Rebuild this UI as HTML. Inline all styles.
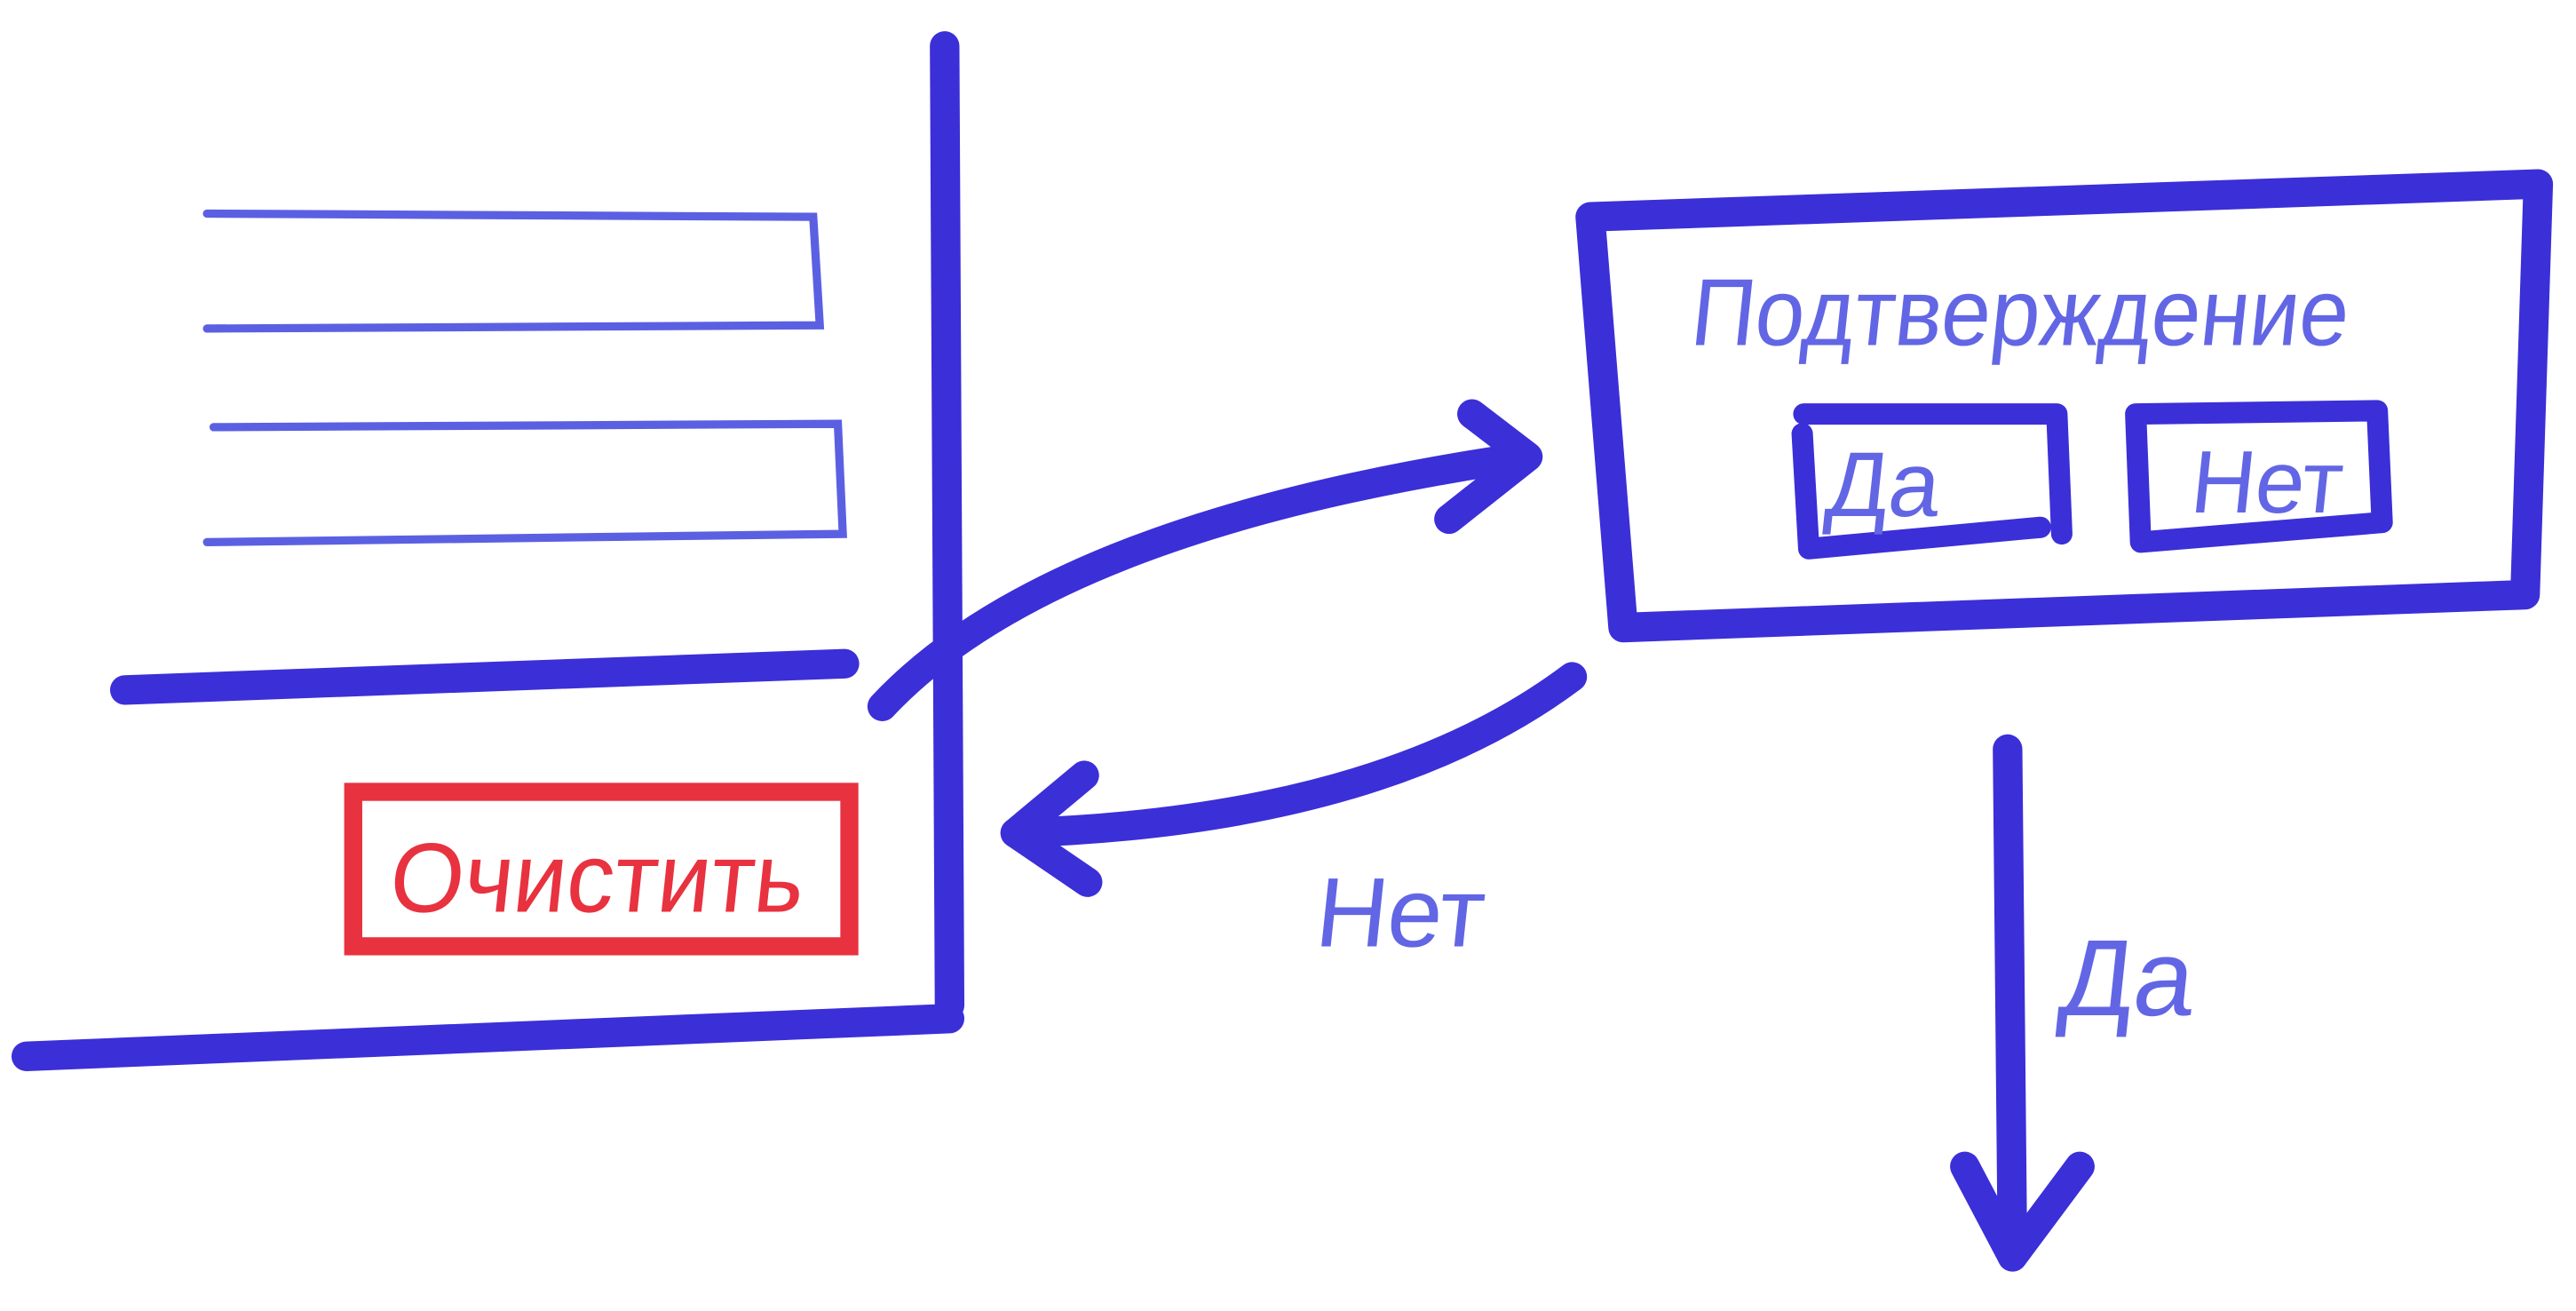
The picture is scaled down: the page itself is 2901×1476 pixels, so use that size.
<!DOCTYPE html>
<html><head><meta charset="utf-8"><style>
html,body{margin:0;padding:0;background:#fff;}
svg{display:block;}
text{font-family:"Liberation Sans",sans-serif;}
</style></head><body>
<svg width="2901" height="1476" viewBox="0 0 1568 798" preserveAspectRatio="none" xmlns="http://www.w3.org/2000/svg">
<rect width="1568" height="798" fill="#ffffff"/>
<g fill="none" stroke="#3b2fd8" stroke-width="18" stroke-linecap="round" stroke-linejoin="round">
<path d="M575 28 L578 612"/>
<path d="M16 643 L578 620"/>
<path d="M76 420 L514 404"/>
<path d="M968 132 L1545 112 L1537 362 L988 382 Z"/>
<path d="M537 430 Q640 320 928 278"/>
<path d="M896 252 L930 278 L882 316"/>
<path d="M957 412 Q840 500 618 507"/>
<path d="M660 472 L618 507 L662 537"/>
<path d="M1222 456 L1225 765"/>
<path d="M1196 710 L1225 765 L1266 710"/>
</g>
<g fill="none" stroke="#3b2fd8" stroke-width="13" stroke-linecap="round" stroke-linejoin="round">
<path d="M1098 252 L1252 252 L1255 325"/>
<path d="M1097 264 L1101 334 L1242 321"/>
<path d="M1300 252 L1447 250 L1450 318 L1303 330 Z"/>
</g>
<g fill="none" stroke="#5b60e2" stroke-width="5" stroke-linecap="round">
<path d="M126 130 L495 132 L499 198 L126 200"/>
<path d="M130 260 L510 258 L513 325 L126 330"/>
</g>
<rect x="215" y="482" width="302" height="94" fill="none" stroke="#e8323f" stroke-width="11"/>
<g fill="#6266e4">
<text x="236" y="555" font-size="60" fill="#e8323f" textLength="252" lengthAdjust="spacingAndGlyphs" transform="skewX(-6) translate(58 0)">Очистить</text>
<text x="1030" y="210" font-size="58" textLength="400" lengthAdjust="spacingAndGlyphs" transform="skewX(-6) translate(20 0)">Подтверждение</text>
<text x="1110" y="314" font-size="56" transform="skewX(-6) translate(33 0)">Да</text>
<text x="1332" y="312" font-size="54" transform="skewX(-6) translate(33 0)">Нет</text>
<text x="800" y="576" font-size="60" transform="skewX(-6) translate(60 0)">Нет</text>
<text x="1252" y="618" font-size="66" transform="skewX(-6) translate(65 0)">Да</text>
</g>
</svg>
</body></html>
